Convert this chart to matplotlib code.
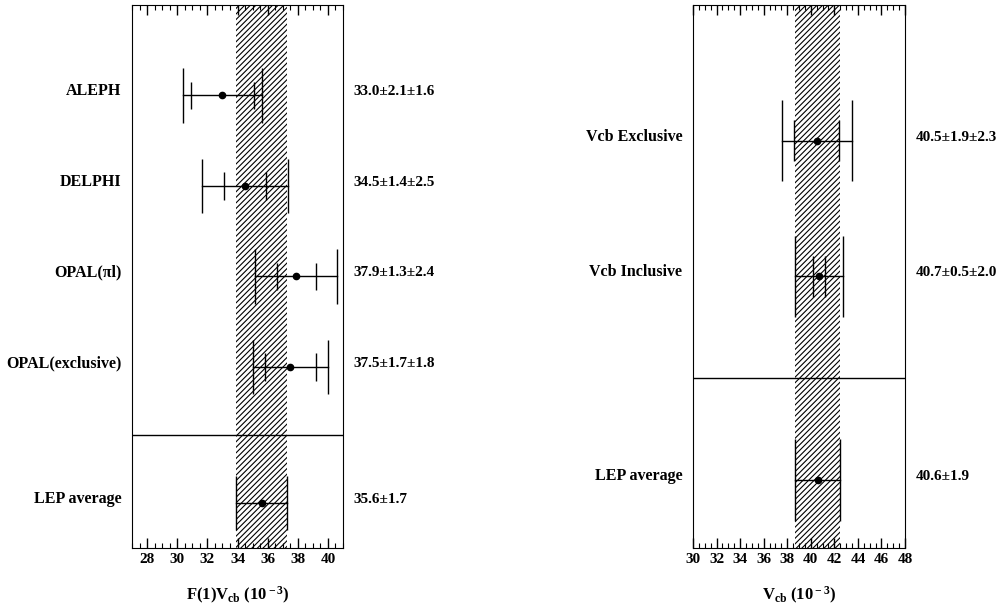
import numpy as np
import matplotlib
matplotlib.use('Agg')
from matplotlib import pyplot as plt
from matplotlib.ticker import MultipleLocator

plt.rcParams['font.family'] = ['Liberation Serif', 'DejaVu Serif']
plt.rcParams['font.weight'] = 'bold'
plt.rcParams['mathtext.fontset'] = 'custom'
plt.rcParams['mathtext.rm'] = 'Liberation Serif:bold'
plt.rcParams['mathtext.it'] = 'Liberation Serif:bold'
plt.rcParams['mathtext.bf'] = 'Liberation Serif:bold'
plt.rcParams['hatch.linewidth'] = 0.8

# left panel: F(1)Vcb
left_names = ['ALEPH', 'DELPHI', 'OPAL(\u03c0l)', 'OPAL(exclusive)', 'LEP average']
left_val = [33.0, 34.5, 37.9, 37.5, 35.6]
left_stat = [2.1, 1.4, 1.3, 1.7, 1.7]
left_syst = [1.6, 2.5, 2.4, 1.8, 0.0]
left_text = ['33.0\u00b12.1\u00b11.6', '34.5\u00b11.4\u00b12.5', '37.9\u00b11.3\u00b12.4',
             '37.5\u00b11.7\u00b11.8', '35.6\u00b11.7']
left_pos = [5.0, 4.0, 3.0, 2.0, 0.5]
left_sep = 1.25

# right panel: Vcb
right_names = ['Vcb Exclusive', 'Vcb Inclusive', 'LEP average']
right_val = [40.5, 40.7, 40.6]
right_stat = [1.9, 0.5, 1.9]
right_syst = [2.3, 2.0, 0.0]
right_text = ['40.5\u00b11.9\u00b12.3', '40.7\u00b10.5\u00b12.0', '40.6\u00b11.9']
right_pos = [6.0, 4.0, 1.0]
right_sep = 2.5


def panel(ax, names, val, stat, syst, text, pos, sep, xlim, ylim, cap, xlabel):
    ave_lo = val[-1] - stat[-1]
    ave_hi = val[-1] + stat[-1]
    ax.axvspan(ave_lo, ave_hi, facecolor='none', edgecolor='black',
               hatch='//////', linewidth=0)
    for n, v, s1, s2, t, y in zip(names, val, stat, syst, text, pos):
        tot = np.hypot(s1, s2)
        ax.plot([v - tot, v + tot], [y, y], color='black', lw=1)
        ax.vlines([v - tot, v + tot], y - cap, y + cap, color='black', lw=1)
        if s2 > 0:
            ax.vlines([v - s1, v + s1], y - cap / 2, y + cap / 2, color='black', lw=1)
        ax.plot(v, y, 'o', color='black', ms=4.5)
        ax.text(-0.05, y, n, transform=ax.get_yaxis_transform(), ha='right',
                va='baseline', fontsize=11.5, fontweight='bold')
        ax.text(1.05, y, t, transform=ax.get_yaxis_transform(), ha='left',
                va='baseline', fontsize=11, fontweight='bold')
    ax.axhline(sep, color='black', lw=1)
    ax.set_xlim(*xlim)
    ax.set_ylim(*ylim)
    ax.set_yticks([])
    ax.xaxis.set_major_locator(MultipleLocator(2))
    ax.xaxis.set_minor_locator(MultipleLocator(0.5))
    ax.tick_params(axis='x', which='both', direction='in', top=True, labelsize=11)
    ax.tick_params(axis='x', which='major', length=7, width=1)
    ax.tick_params(axis='x', which='minor', length=3.5, width=0.8)
    for lab in ax.get_xticklabels():
        lab.set_fontweight('bold')
    ax.set_xlabel(xlabel, fontsize=12, fontweight='bold', labelpad=14)


fig = plt.figure(figsize=(10, 6.09), dpi=100)
ax1 = fig.add_axes([0.132, 0.1002, 0.211, 0.8916])
ax2 = fig.add_axes([0.693, 0.1002, 0.212, 0.8916])

panel(ax1, left_names, left_val, left_stat, left_syst, left_text, left_pos,
      left_sep, (27, 41), (0, 6), 0.3, r'F(1)V$_{\rm cb}$ (10$^{\rm -3}$)')
panel(ax2, right_names, right_val, right_stat, right_syst, right_text, right_pos,
      right_sep, (30, 48), (0, 8), 0.6, r'V$_{\rm cb}$ (10$^{\rm -3}$)')

fig.savefig('out.png', dpi=100)
